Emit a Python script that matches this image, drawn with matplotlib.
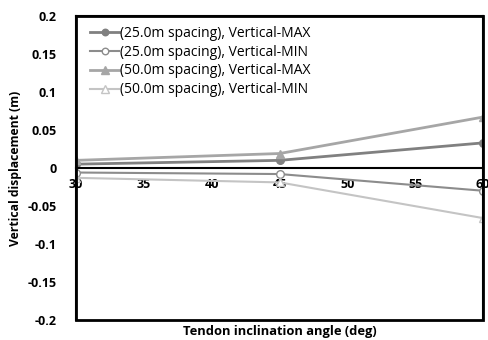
import matplotlib
matplotlib.use("Agg")
import matplotlib.pyplot as plt
from matplotlib.patches import Rectangle

angles = [30, 45, 60]
s25_max = [0.005, 0.010, 0.033]
s25_min = [-0.006, -0.008, -0.030]
s50_max = [0.010, 0.019, 0.067]
s50_min = [-0.013, -0.019, -0.066]

labels = ["(25.0m spacing), Vertical-MAX", "(25.0m spacing), Vertical-MIN",
          "(50.0m spacing), Vertical-MAX", "(50.0m spacing), Vertical-MIN"]
xticks = [30, 35, 40, 45, 50, 55, 60]
yticks = [-0.2, -0.15, -0.1, -0.05, 0, 0.05, 0.1, 0.15, 0.2]
ytick_labels = ["-0.2", "-0.15", "-0.1", "-0.05", "0", "0.05", "0.1", "0.15", "0.2"]

plt.rcParams['font.family'] = ['Open Sans', 'DejaVu Sans']

fig = plt.figure(figsize=(4.88, 3.4), dpi=100)
ax = fig.add_axes([0.156, 0.059, 0.834, 0.894])
ax.spines['bottom'].set_position(('data', 0))

ax.plot(angles, s25_max, color='#808080', lw=2, marker='o', ms=5.5, label=labels[0])
ax.plot(angles, s25_min, color='#8c8c8c', lw=1.5, marker='o', ms=5.5, mfc='white', label=labels[1])
ax.plot(angles, s50_max, color='#a6a6a6', lw=2, marker='^', ms=6, label=labels[2])
ax.plot(angles, s50_min, color='#c4c4c4', lw=1.5, marker='^', ms=6, mfc='white', label=labels[3])

ax.set_xlim(30, 60)
ax.set_ylim(-0.2, 0.2)
ax.set_xticks(xticks)
ax.set_xticklabels([str(t) for t in xticks])
ax.set_yticks(yticks)
ax.set_yticklabels(ytick_labels)
for lbl in ax.get_xticklabels() + ax.get_yticklabels():
    lbl.set_fontweight('bold')
    lbl.set_fontsize(9)
ax.tick_params(length=0, axis='both')
ax.tick_params(axis='y', pad=14)
ax.tick_params(axis='x', pad=7)

for s in ax.spines.values():
    s.set_linewidth(1.5)
    s.set_color('black')
ax.add_patch(Rectangle((0, 0), 1, 1, transform=ax.transAxes, fill=False,
                       edgecolor='black', lw=2, clip_on=False, zorder=5))

ax.set_xlabel("Tendon inclination angle (deg)", fontsize=9.3, fontweight='bold')
ax.xaxis.set_label_coords(0.5, -0.018)
ax.set_ylabel("Vertical displacement (m)", fontsize=8.7, fontweight='bold', labelpad=4)

leg = ax.legend(loc='upper left', frameon=False, fontsize=10, handlelength=2.1,
                handletextpad=0.1, labelspacing=0.28, borderaxespad=0.3,
                markerscale=0.85, bbox_to_anchor=(0.01, 1.0))

fig.savefig("out.png", dpi=100)
